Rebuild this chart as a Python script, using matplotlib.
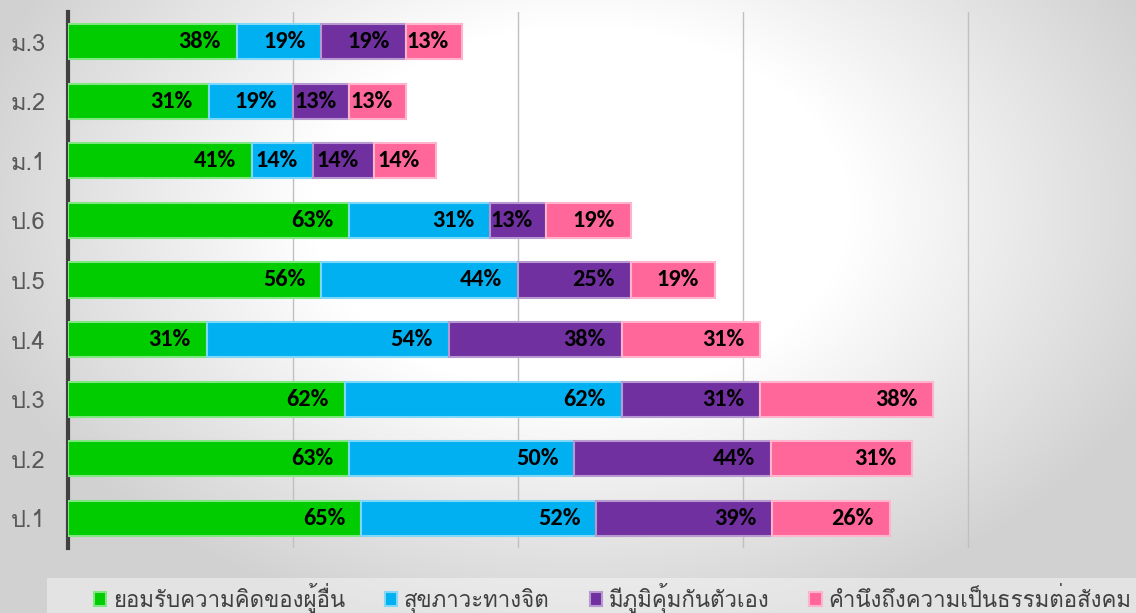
import numpy as np
import matplotlib
matplotlib.use("Agg")
import matplotlib.pyplot as plt
from matplotlib.colors import to_rgb
from matplotlib.patches import Rectangle

# grades, bottom to top
grades = ["ป.1", "ป.2", "ป.3", "ป.4", "ป.5", "ป.6", "ม.1", "ม.2", "ม.3"]
series_names = ["ยอมรับความคิดของผู้อื่น", "สุขภาวะทางจิต",
                "มีภูมิคุ้มกันตัวเอง", "คำนึงถึงความเป็นธรรมต่อสังคม"]
# percentages (labels show them rounded)
accept_others = [65.2, 62.5, 61.5, 30.8, 56.25, 62.5, 40.9, 31.25, 37.5]
mental_health = [52.2, 50.0, 61.5, 53.8, 43.75, 31.25, 13.6, 18.75, 18.75]
self_immunity = [39.1, 43.75, 30.8, 38.4, 25.0, 12.5, 13.6, 12.5, 18.75]
social_justice = [26.1, 31.25, 38.4, 30.8, 18.75, 18.75, 13.6, 12.5, 12.5]
colors = ["#00CC00", "#00B0F0", "#7030A0", "#FF6699"]

thai = ["Loma", "Noto Sans Thai Looped", "DejaVu Sans"]
num_font = ["Carlito", "Lato", "DejaVu Sans"]

W, H = 1136, 613
fig = plt.figure(figsize=(W / 100, H / 100), dpi=100)

# radial grey-to-white backdrop
bg = fig.add_axes([0, 0, 1, 1], zorder=-10)
yy, xx = np.mgrid[0:H, 0:W]
d = np.sqrt(((xx - 580) / 600.0) ** 2 + ((yy - 210) / 410.0) ** 2)
t = np.clip((d - 0.45) / 0.6, 0, 1)
shade = 1 - 0.18 * t
bg.imshow(np.dstack([shade] * 3), aspect="auto", extent=[0, 1, 0, 1])
bg.set_xlim(0, 1)
bg.set_ylim(0, 1)
bg.axis("off")
# lighter band behind the legend
bg.add_patch(Rectangle((47 / W, 0), 1, 35 / H, facecolor="white",
                       alpha=0.4, linewidth=0))

ax = fig.add_axes([68 / W, 1 - 548 / H, 1 - 68 / W, (548 - 12) / H])
ax.patch.set_alpha(0)

y = np.arange(len(grades))
data = [accept_others, mental_health, self_immunity, social_justice]
left = np.zeros(len(grades))
for vals, name, c in zip(data, series_names, colors):
    vals = np.array(vals, dtype=float)
    edge = 0.5 * np.array(to_rgb(c)) + 0.5
    ax.barh(y, vals, left=left, height=0.59, color=c, edgecolor=edge,
            linewidth=1.5, label=name, zorder=3)
    for yi, l, v in zip(y, left, vals):
        xr = max(l + v - 3.5, l + 9.6)
        ax.text(xr, yi, f"{int(v + 0.5)}%", ha="right", va="center",
                fontsize=17.5, fontweight="bold", family=num_font,
                color="black", zorder=4)
    left += vals

ax.set_xlim(0, 1068 / 4.5)
ax.set_ylim(-0.5, len(grades) - 0.5)
ax.set_xticks([0, 50, 100, 150, 200])
ax.set_xticklabels([])
ax.set_yticks(y)
ax.set_yticklabels(grades, family=thai, fontsize=17, color="#595959")
ax.tick_params(length=0, axis="both")
ax.tick_params(axis="y", pad=16)
ax.grid(axis="x", color="#c0c0c0", linewidth=1, zorder=0)
for s in ["top", "right", "bottom"]:
    ax.spines[s].set_visible(False)
ax.spines["left"].set_color("#404040")
ax.spines["left"].set_linewidth(3)

leg = fig.legend(loc="upper left", bbox_to_anchor=(94 / W, 1 - 583 / H),
                 ncol=4, frameon=False,
                 prop={"family": thai, "size": 16},
                 handlelength=0.55, handleheight=0.55, handletextpad=0.3,
                 columnspacing=1.8, borderpad=0, borderaxespad=0)
for txt in leg.get_texts():
    txt.set_color("#404040")

fig.savefig("out.png", dpi=100)
